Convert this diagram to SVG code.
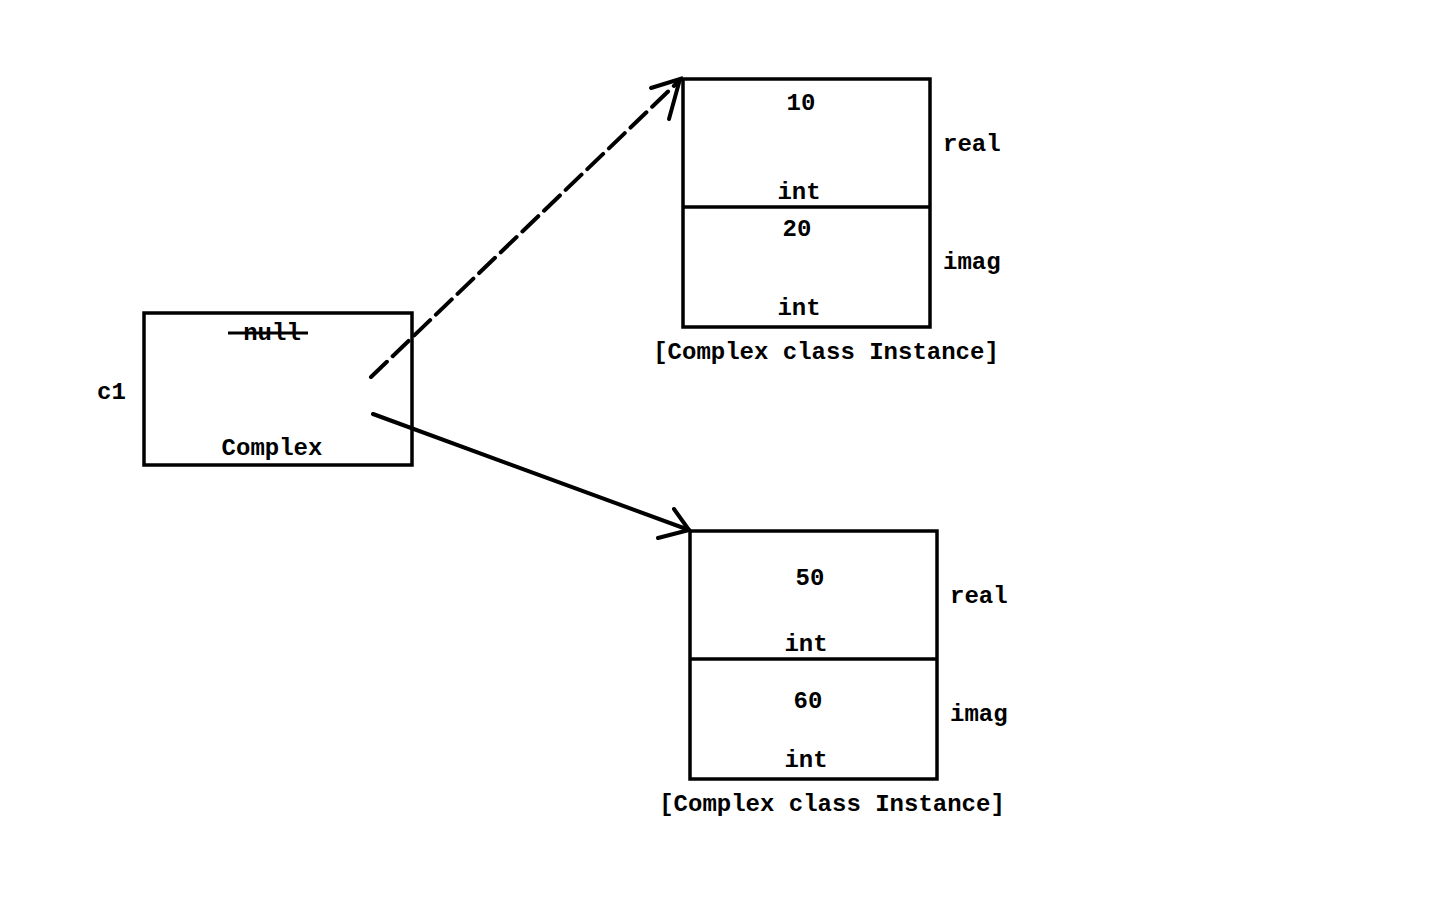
<svg xmlns="http://www.w3.org/2000/svg" width="1440" height="900" viewBox="0 0 1440 900">
<style>
.box{fill:none;stroke:#000;stroke-width:3.5}
.t{font-family:"Liberation Mono","Courier New",monospace;font-weight:bold;font-size:24px;fill:#000}
.m{text-anchor:middle}
.c{fill:none;stroke:#000;stroke-width:4;stroke-linecap:round}
</style>
<rect width="1440" height="900" fill="#fff"/>
<g id="c1">
<rect class="box" x="144" y="313" width="268" height="152"/>
<text class="t m" x="272" y="340">null</text>
<line x1="228" y1="333" x2="308" y2="333" stroke="#000" stroke-width="3"/>
<text class="t" x="97" y="399">c1</text>
<text class="t m" x="272" y="455">Complex</text>
</g>
<g id="instance1">
<rect class="box" x="683" y="79" width="247" height="248"/>
<line x1="683" y1="207" x2="930" y2="207" stroke="#000" stroke-width="3.5"/>
<text class="t m" x="801" y="110">10</text>
<text class="t m" x="799" y="199">int</text>
<text class="t m" x="797" y="236">20</text>
<text class="t m" x="799" y="315">int</text>
<text class="t" x="943" y="151">real</text>
<text class="t" x="943" y="269">imag</text>
<text class="t m" x="826" y="359">[Complex class Instance]</text>
</g>
<g id="instance2">
<rect class="box" x="690" y="531" width="247" height="248"/>
<line x1="690" y1="659" x2="937" y2="659" stroke="#000" stroke-width="3.5"/>
<text class="t m" x="810" y="585">50</text>
<text class="t m" x="806" y="651">int</text>
<text class="t m" x="808" y="708">60</text>
<text class="t m" x="806" y="767">int</text>
<text class="t" x="950" y="603">real</text>
<text class="t" x="950" y="721">imag</text>
<text class="t m" x="832" y="811">[Complex class Instance]</text>
</g>
<g id="connectors">
<line class="c" x1="371" y1="377" x2="680" y2="80" stroke-dasharray="22 8" stroke-linecap="butt"/>
<polyline class="c" points="651,88 680,79 669,119"/>
<line class="c" x1="373" y1="414" x2="689" y2="530"/>
<polyline class="c" points="658,538 689,530 674,509"/>
</g>
</svg>
